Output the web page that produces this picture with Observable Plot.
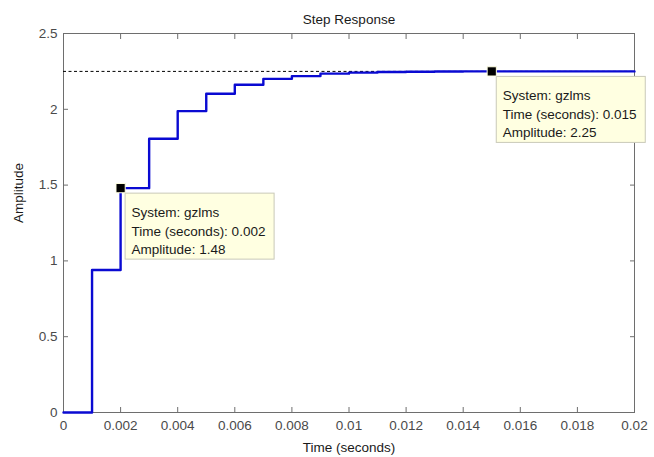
<!DOCTYPE html>
<html>
<head>
<meta charset="utf-8">
<script src="https://cdn.jsdelivr.net/npm/d3@7"></script>
<script src="https://cdn.jsdelivr.net/npm/@observablehq/plot@0.6"></script>
<style>
  html, body { margin: 0; padding: 0; background: #fff; }
  #chart svg { display: block; }
</style>
</head>
<body>
<div id="chart"></div>
<script>
// Discrete step response of system gzlms, sampled every 1 ms
const times = [0, 0.001, 0.002, 0.003, 0.004, 0.005, 0.006, 0.007, 0.008, 0.009, 0.010,
               0.011, 0.012, 0.013, 0.014, 0.015, 0.016, 0.017, 0.018, 0.019, 0.020];
const amplitudes = [0, 0.94, 1.48, 1.806, 1.988, 2.103, 2.162, 2.201, 2.219, 2.235, 2.242,
                    2.246, 2.248, 2.249, 2.25, 2.25, 2.25, 2.25, 2.25, 2.25, 2.25];

// Steady-state value (dashed reference line)
const steadyState = [2.25];

// Data tips
const tipSystem = ["gzlms", "gzlms"];
const tipTimes = [0.002, 0.015];
const tipAmps = [1.48, 2.25];

// Axis ticks
const xTicks = [0, 0.002, 0.004, 0.006, 0.008, 0.01, 0.012, 0.014, 0.016, 0.018, 0.02];
const yTicks = [0, 0.5, 1, 1.5, 2, 2.5];

const series = times.map((t, i) => ({t, a: amplitudes[i]}));
const tips = tipTimes.map((t, i) => ({
  t, a: tipAmps[i],
  label: `System: ${tipSystem[i]}\nTime (seconds): ${t}\nAmplitude: ${tipAmps[i]}`
}));

const font = "'Liberation Sans', Arial, sans-serif";
const tickColor = "#4a4a4a";
const boxColor = "#6e6e6e";

const chart = Plot.plot({
  width: 654,
  height: 457,
  marginTop: 33,
  marginRight: 20,
  marginBottom: 45,
  marginLeft: 63,
  style: {fontFamily: font, fontSize: "13.5px", background: "#fff", overflow: "visible"},
  x: {domain: [0, 0.02]},
  y: {domain: [0, 2.5]},
  marks: [
    // axes box
    Plot.frame({stroke: boxColor, strokeWidth: 1}),
    // inward ticks on all four sides
    Plot.axisX(xTicks, {anchor: "bottom", tickSize: -5, text: null, stroke: boxColor, label: null}),
    Plot.axisX(xTicks, {anchor: "top", tickSize: -5, text: null, stroke: boxColor, label: null}),
    Plot.axisY(yTicks, {anchor: "left", tickSize: -5, text: null, stroke: boxColor, label: null}),
    Plot.axisY(yTicks, {anchor: "right", tickSize: -5, text: null, stroke: boxColor, label: null}),
    // tick labels
    Plot.axisX(xTicks, {anchor: "bottom", tickSize: 0, tickPadding: 8, label: null,
                        fill: tickColor, tickFormat: d => String(d)}),
    Plot.axisY(yTicks, {anchor: "left", tickSize: 0, tickPadding: 6, label: null,
                        fill: tickColor, tickFormat: d => String(d)}),
    // steady-state line
    Plot.ruleY(steadyState, {stroke: "#000", strokeWidth: 1, strokeDasharray: "3,2.5"}),
    // step response
    Plot.line(series, {x: "t", y: "a", curve: "step-after", stroke: "#0a0ad2", strokeWidth: 2.4}),
    // title and axis labels
    Plot.text(["Step Response"], {frameAnchor: "top", dy: -19, fill: "#1a1a1a"}),
    Plot.text(["Time (seconds)"], {frameAnchor: "bottom", dy: 39, fill: "#1a1a1a"}),
    Plot.text(["Amplitude"], {frameAnchor: "left", dx: -45, rotate: -90, fill: "#1a1a1a"}),
    // data tips: box, marker, text
    Plot.rect(tips, {x1: "t", x2: "t", y1: "a", y2: "a", dx: 5, dy: 5.5,
                     insetRight: -149, insetBottom: -66,
                     fill: "#ffffe1", stroke: "#c9c9b8", strokeWidth: 1}),
    Plot.dot(tips, {x: "t", y: "a", symbol: "square", r: 5.2, fill: "#000",
                    stroke: "#ffffe1", strokeWidth: 1}),
    Plot.text(tips, {x: "t", y: "a", text: "label", dx: 11, dy: 16,
                     textAnchor: "start", lineAnchor: "top", lineHeight: 1.36,
                     fill: "#1a1a1a"})
  ]
});

document.getElementById("chart").appendChild(chart);
</script>
</body>
</html>
